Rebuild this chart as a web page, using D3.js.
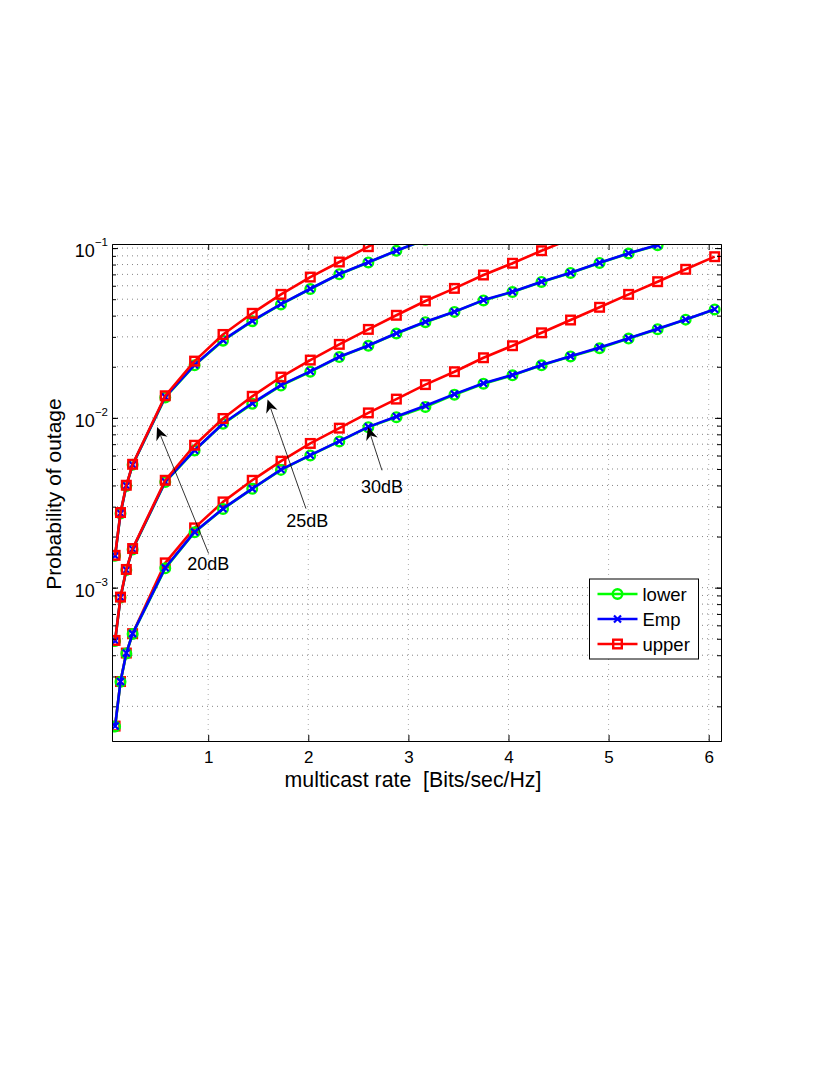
<!DOCTYPE html>
<html>
<head>
<meta charset="utf-8">
<script src="https://cdn.jsdelivr.net/npm/d3@7"></script>
<style>
  body { margin: 0; background: #fff; }
  text { font-family: "Liberation Sans", Arial, sans-serif; fill: #000; }
</style>
</head>
<body>
<div id="vis-container"></div>
<script>
// multicast rate [Bits/sec/Hz], shared by every curve
var rate = [0.07, 0.124, 0.182, 0.245, 0.571, 0.864, 1.148, 1.44, 1.727, 2.02, 2.31, 2.60,
            2.88, 3.17, 3.46, 3.75, 4.04, 4.33, 4.62, 4.91, 5.20, 5.49, 5.77, 6.06];

// 20dB
var lower20 = [1.54e-3, 2.73e-3, 3.97e-3, 5.29e-3, 1.32e-2, 2.04e-2, 2.85e-2, 3.71e-2, 4.66e-2, 5.74e-2, 7.02e-2, 8.23e-2, 9.63e-2, 0.1122];
var emp20   = [1.54e-3, 2.74e-3, 3.98e-3, 5.30e-3, 1.33e-2, 2.05e-2, 2.87e-2, 3.73e-2, 4.68e-2, 5.76e-2, 7.04e-2, 8.25e-2, 9.65e-2, 0.1124];
var upper20 = [1.55e-3, 2.77e-3, 4.01e-3, 5.33e-3, 1.35e-2, 2.16e-2, 3.10e-2, 4.13e-2, 5.34e-2, 6.75e-2, 8.28e-2, 0.1019, 0.1244];

// 25dB
var lower25 = [4.85e-4, 8.75e-4, 1.27e-3, 1.68e-3, 4.19e-3, 6.42e-3, 9.22e-3, 1.21e-2, 1.55e-2, 1.87e-2, 2.28e-2, 2.66e-2,
               3.14e-2, 3.66e-2, 4.21e-2, 4.92e-2, 5.51e-2, 6.32e-2, 7.14e-2, 8.18e-2, 9.29e-2, 0.1040];
var emp25   = [4.86e-4, 8.77e-4, 1.27e-3, 1.69e-3, 4.21e-3, 6.45e-3, 9.27e-3, 1.22e-2, 1.56e-2, 1.88e-2, 2.29e-2, 2.67e-2,
               3.15e-2, 3.68e-2, 4.22e-2, 4.94e-2, 5.53e-2, 6.34e-2, 7.16e-2, 8.20e-2, 9.32e-2, 0.1043];
var upper25 = [4.89e-4, 8.80e-4, 1.28e-3, 1.70e-3, 4.29e-3, 6.90e-3, 9.92e-3, 1.34e-2, 1.74e-2, 2.19e-2, 2.71e-2, 3.32e-2,
               4.02e-2, 4.88e-2, 5.79e-2, 6.94e-2, 8.14e-2, 9.65e-2, 0.1132];

// 30dB
var lower30 = [1.52e-4, 2.79e-4, 4.10e-4, 5.34e-4, 1.30e-3, 2.12e-3, 2.91e-3, 3.82e-3, 4.94e-3, 6.01e-3, 7.27e-3, 8.82e-3,
               1.01e-2, 1.16e-2, 1.37e-2, 1.59e-2, 1.78e-2, 2.04e-2, 2.30e-2, 2.57e-2, 2.93e-2, 3.33e-2, 3.79e-2, 4.35e-2];
var emp30   = [1.53e-4, 2.80e-4, 4.12e-4, 5.36e-4, 1.31e-3, 2.13e-3, 2.92e-3, 3.83e-3, 4.96e-3, 6.03e-3, 7.29e-3, 8.85e-3,
               1.02e-2, 1.18e-2, 1.38e-2, 1.60e-2, 1.79e-2, 2.05e-2, 2.31e-2, 2.60e-2, 2.94e-2, 3.35e-2, 3.80e-2, 4.36e-2];
var upper30 = [1.53e-4, 2.80e-4, 4.12e-4, 5.36e-4, 1.40e-3, 2.25e-3, 3.20e-3, 4.29e-3, 5.56e-3, 7.07e-3, 8.70e-3, 1.07e-2,
               1.29e-2, 1.57e-2, 1.87e-2, 2.26e-2, 2.66e-2, 3.17e-2, 3.77e-2, 4.48e-2, 5.34e-2, 6.34e-2, 7.50e-2, 8.90e-2];

var xTicks = [1, 2, 3, 4, 5, 6];
var yTicks = [1e-3, 1e-2, 1e-1];
var yTickExp = ["\u22123", "\u22122", "\u22121"];
var legendNames = ["lower", "Emp", "upper"];

// annotation arrows: [label, tipRate, tipP, tailRate, tailP, textRate, textP]
var notes = [
  ["20dB", 0.489, 8.85e-3, 1.004, 1.59e-3, 1.0, 1.265e-3],
  ["25dB", 1.593, 1.284e-2, 1.977, 2.92e-3, 1.99, 2.267e-3],
  ["30dB", 2.596, 8.85e-3, 2.736, 4.91e-3, 2.736, 3.597e-3]
];

var margin = { top: 244, left: 112 };
var width  = 609;
var height = 497;

var xScale = d3.scaleLinear().domain([0.039, 6.123]).range([0, width]);
var yScale = d3.scaleLog().domain([1.25e-4, 0.1057]).range([height, 0]);

var colors = { lower: "#00ff00", Emp: "#0000ff", upper: "#ff0000" };

var svg = d3.select("#vis-container")
  .append("svg")
    .attr("width", 830)
    .attr("height", 1075)
    .style("background", "#fff");

var g = svg.append("g")
    .attr("transform", "translate(" + margin.left + "," + margin.top + ")");

svg.append("defs").append("clipPath").attr("id", "plotclip")
  .append("rect").attr("x", 0).attr("y", 0).attr("width", width).attr("height", height);

// minor values for log grid
var minorVals = [];
[-4, -3, -2, -1].forEach(function(e) {
  for (var m = 1; m <= 9; m++) {
    var v = m * Math.pow(10, e);
    if (v >= 1.25e-4 && v <= 0.1057) minorVals.push(v);
  }
});

// grid
var grid = g.append("g").attr("class", "grid");
grid.selectAll(".gy").data(minorVals).enter().append("line")
    .attr("x1", 0).attr("x2", width)
    .attr("y1", function(d) { return yScale(d); })
    .attr("y2", function(d) { return yScale(d); })
    .attr("stroke", "#666").attr("stroke-width", 0.8)
    .attr("stroke-dasharray", "1,4");
grid.selectAll(".gx").data(xTicks).enter().append("line")
    .attr("y1", 0).attr("y2", height)
    .attr("x1", function(d) { return xScale(d); })
    .attr("x2", function(d) { return xScale(d); })
    .attr("stroke", "#999").attr("stroke-width", 0.8)
    .attr("stroke-dasharray", "1,4");

// curves
var line = d3.line()
  .x(function(d, i) { return xScale(rate[i]); })
  .y(function(d) { return yScale(d); });

var plot = g.append("g").attr("clip-path", "url(#plotclip)");

function drawSeries(vals, kind) {
  plot.append("path")
    .datum(vals)
    .attr("d", line)
    .attr("fill", "none")
    .attr("stroke", colors[kind])
    .attr("stroke-width", 2.6)
    .attr("stroke-linejoin", "round");
  var pts = plot.append("g").selectAll("g").data(vals).enter().append("g")
    .attr("transform", function(d, i) { return "translate(" + xScale(rate[i]) + "," + yScale(d) + ")"; });
  drawMarker(pts, kind);
}

function drawMarker(sel, kind) {
  if (kind === "lower") {
    sel.append("circle").attr("r", 4.8)
      .attr("fill", "none").attr("stroke", colors.lower).attr("stroke-width", 2.4);
  } else if (kind === "Emp") {
    sel.append("path").attr("d", "M-3.5,-3.5L3.5,3.5M-3.5,3.5L3.5,-3.5")
      .attr("stroke", colors.Emp).attr("stroke-width", 2.2);
  } else {
    sel.append("rect").attr("x", -4.3).attr("y", -4.3).attr("width", 8.6).attr("height", 8.6)
      .attr("fill", "none").attr("stroke", colors.upper).attr("stroke-width", 2.4);
  }
}

drawSeries(lower20, "lower");
drawSeries(emp20, "Emp");
drawSeries(upper20, "upper");
drawSeries(lower25, "lower");
drawSeries(emp25, "Emp");
drawSeries(upper25, "upper");
drawSeries(upper30, "upper");
drawSeries(lower30, "lower");
drawSeries(emp30, "Emp");

// axes (ticks inward, on all four sides)
function styleAxis(a) {
  a.selectAll("path.domain").attr("stroke", "#000").attr("stroke-width", 1);
  a.selectAll(".tick line").attr("stroke", "#000").attr("stroke-width", 1);
}

var xAxis = d3.axisBottom(xScale).tickValues(xTicks).tickSizeInner(-6).tickSizeOuter(0)
  .tickPadding(10).tickFormat(d3.format("d"));
var xa = g.append("g").attr("transform", "translate(0," + height + ")").call(xAxis);
xa.selectAll("text").attr("font-size", 17).attr("font-family", "Liberation Sans, Arial, sans-serif");
styleAxis(xa);

var xt = g.append("g").call(d3.axisTop(xScale).tickValues(xTicks).tickSizeInner(-6).tickSizeOuter(0).tickFormat(""));
styleAxis(xt);

var yAxis = d3.axisLeft(yScale).tickValues(yTicks).tickSizeInner(-6).tickSizeOuter(0).tickPadding(4);
var ya = g.append("g").call(yAxis);
styleAxis(ya);
ya.selectAll(".tick text").each(function(d, i) {
  var t = d3.select(this);
  t.text(null).attr("dy", null).attr("y", 8.5)
    .attr("font-size", 18).attr("font-family", "Liberation Sans, Arial, sans-serif");
  t.append("tspan").text("10");
  t.append("tspan").attr("dy", -11).attr("font-size", 11.5).text(yTickExp[i]);
});
var yMinor = g.append("g").call(d3.axisLeft(yScale).tickValues(minorVals).tickSizeInner(-4).tickSizeOuter(0).tickFormat(""));
styleAxis(yMinor);

var yr = g.append("g").attr("transform", "translate(" + width + ",0)")
  .call(d3.axisRight(yScale).tickValues(yTicks).tickSizeInner(-6).tickSizeOuter(0).tickFormat(""));
styleAxis(yr);
var yrMinor = g.append("g").attr("transform", "translate(" + width + ",0)")
  .call(d3.axisRight(yScale).tickValues(minorVals).tickSizeInner(-4).tickSizeOuter(0).tickFormat(""));
styleAxis(yrMinor);

// axis titles
svg.append("text")
  .attr("x", 413).attr("y", 787)
  .attr("text-anchor", "middle").attr("font-size", 21.3)
  .style("white-space", "pre")
  .text("multicast rate  [Bits/sec/Hz]");

svg.append("text")
  .attr("transform", "translate(61,494) rotate(-90)")
  .attr("text-anchor", "middle").attr("font-size", 21)
  .text("Probability of outage");

// annotations
var ann = g.append("g");
notes.forEach(function(n) {
  var x1 = xScale(n[3]), y1 = yScale(n[4]);
  var x2 = xScale(n[1]), y2 = yScale(n[2]);
  var ang = Math.atan2(y2 - y1, x2 - x1);
  var hl = 13, hw = 6, back = 9;
  var ux = Math.cos(ang), uy = Math.sin(ang);
  ann.append("line")
    .attr("x1", x1).attr("y1", y1)
    .attr("x2", x2 - ux * back).attr("y2", y2 - uy * back)
    .attr("stroke", "#000").attr("stroke-width", 0.8);
  var bx = x2 - ux * hl, by = y2 - uy * hl;
  var nx = x2 - ux * back, ny = y2 - uy * back;
  var pts = [[x2, y2], [bx - uy * hw, by + ux * hw], [nx, ny], [bx + uy * hw, by - ux * hw]];
  ann.append("path")
    .attr("d", "M" + pts.map(function(p) { return p[0] + "," + p[1]; }).join("L") + "Z")
    .attr("fill", "#000");
  ann.append("text")
    .attr("x", xScale(n[5])).attr("y", yScale(n[6]))
    .attr("text-anchor", "middle").attr("font-size", 18)
    .text(n[0]);
});

// legend
var legend = g.append("g").attr("transform", "translate(" + (589.5 - margin.left) + "," + (579 - margin.top) + ")");
legend.append("rect").attr("width", 109).attr("height", 80)
  .attr("fill", "#fff").attr("stroke", "#000").attr("stroke-width", 1);
legendNames.forEach(function(name, i) {
  var row = legend.append("g").attr("transform", "translate(0," + (15 + i * 25) + ")");
  row.append("line").attr("x1", 8).attr("x2", 48).attr("y1", 0).attr("y2", 0)
    .attr("stroke", colors[name]).attr("stroke-width", 2.5);
  var m = row.append("g").attr("transform", "translate(28,0)");
  drawMarker(m, name);
  row.append("text").attr("x", 53).attr("y", 6.5).attr("font-size", 18.5).text(name);
});
</script>
</body>
</html>
